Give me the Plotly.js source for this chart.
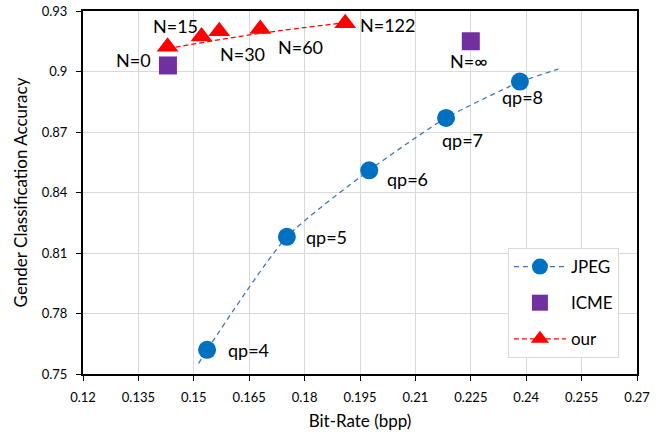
<!DOCTYPE html>
<html>
<head>
<meta charset="utf-8">
<script src="https://cdn.plot.ly/plotly-3.0.1.min.js"></script>
<style>html,body{margin:0;padding:0;background:#fff;}#chart{width:662px;height:440px;}</style>
</head>
<body>
<div id="chart"></div>
<script>
// ---- data ----
const jpegX = [0.1536, 0.1752, 0.1975, 0.2183, 0.2383];
const jpegY = [0.762, 0.818, 0.851, 0.877, 0.895];
const jpegLabels = ['qp=4', 'qp=5', 'qp=6', 'qp=7', 'qp=8'];
const jpegTrendStartX = [0.1513];
const jpegTrendStartY = [0.7553];
const jpegTrendEndX = [0.2487];
const jpegTrendEndY = [0.9012];

const icmeX = [0.143, 0.225];
const icmeY = [0.903, 0.915];
const icmeLabels = ['', 'N=∞'];

const ourX = [0.1429, 0.1521, 0.1569, 0.168, 0.191];
const ourY = [0.9123, 0.9173, 0.9199, 0.9211, 0.9239];
const ourLabels = ['N=0', 'N=15', 'N=30', 'N=60', 'N=122'];
const ourTrendX = [0.1429, 0.168, 0.191];
const ourTrendY = [0.9114, 0.9189, 0.9242];

const xTickVals = [0.12, 0.135, 0.15, 0.165, 0.18, 0.195, 0.21, 0.225, 0.24, 0.255, 0.27];
const xTickText = ['0.12', '0.135', '0.15', '0.165', '0.18', '0.195', '0.21', '0.225', '0.24', '0.255', '0.27'];
const yTickVals = [0.75, 0.78, 0.81, 0.84, 0.87, 0.9, 0.93];
const yTickText = ['0.75', '0.78', '0.81', '0.84', '0.87', '0.9', '0.93'];

// ---- styling ----
const FONT = 'Lato, "Open Sans", sans-serif';
const BLUE = '#0070C0', TREND_BLUE = '#3D72B4', PURPLE = '#7030A0', RED = '#FF0000';

const traces = [
  {x: [jpegTrendStartX[0], jpegX[0]], y: [jpegTrendStartY[0], jpegY[0]], mode: 'lines',
   line: {color: TREND_BLUE, width: 1.25, dash: '5px,4px'}, showlegend: false, hoverinfo: 'skip'},
  {x: [jpegX[jpegX.length-1], jpegTrendEndX[0]], y: [jpegY[jpegY.length-1], jpegTrendEndY[0]], mode: 'lines',
   line: {color: TREND_BLUE, width: 1.25, dash: '5px,4px'}, showlegend: false, hoverinfo: 'skip'},
  {x: jpegX, y: jpegY, name: 'JPEG', mode: 'lines+markers',
   line: {color: TREND_BLUE, width: 1.25, dash: '5px,4px', shape: 'spline', smoothing: 0.6},
   marker: {symbol: 'circle', size: 18, color: BLUE}, legendgroup: 'a'},
  {x: icmeX, y: icmeY, name: 'ICME', mode: 'markers',
   marker: {symbol: 'square', size: 18, color: PURPLE}, legendgroup: 'b'},
  {x: ourTrendX, y: ourTrendY, mode: 'lines', line: {color: RED, width: 1.25, dash: '5px,3px', shape: 'spline'},
   showlegend: false, hoverinfo: 'skip'},
  {x: ourX, y: ourY, name: 'our', mode: 'markers',
   marker: {symbol: 'triangle-up', size: 19, color: RED}, showlegend: false},
  {x: [null], y: [null], name: 'our', mode: 'lines+markers',
   line: {color: RED, width: 1.25, dash: '5px,3px'},
   marker: {symbol: 'triangle-up', size: 19, color: RED}, legendgroup: 'c'}
];

// label offsets (px): [dx, dy down]
const jpegOff = [[41, 0], [40, 0], [38, 9], [16, 22], [3, 15]];
const ourOff = [[-34, 13], [-26, -11], [23, 23], [40, 18], [43, 2]];
const icmeOff = [[0, 0], [-2, 20]];

const annFont = {family: FONT, size: 18, color: '#000'};
const annotations = [];
function addLabels(xs, ys, labels, offs) {
  for (let i = 0; i < xs.length; i++) {
    if (!labels[i]) continue;
    annotations.push({x: xs[i], y: ys[i], xref: 'x', yref: 'y', text: labels[i], showarrow: false,
      xanchor: 'center', yanchor: 'middle', xshift: offs[i][0], yshift: -offs[i][1], font: annFont});
  }
}
addLabels(jpegX, jpegY, jpegLabels, jpegOff);
addLabels(ourX, ourY, ourLabels, ourOff);
addLabels(icmeX, icmeY, icmeLabels, icmeOff);

const layout = {
  width: 662, height: 440,
  margin: {l: 83, r: 25, t: 11, b: 66},
  paper_bgcolor: '#fff', plot_bgcolor: '#fff',
  font: {family: FONT, color: '#000'},
  xaxis: {
    range: [0.12, 0.27], tickvals: xTickVals, ticktext: xTickText,
    showgrid: true, gridcolor: '#d9d9d9', gridwidth: 1, zeroline: false,
    showline: true, linecolor: '#000', linewidth: 2, mirror: true,
    ticks: 'outside', ticklen: 5, tickcolor: '#000', tickwidth: 1,
    tickfont: {family: FONT, size: 13, color: '#000'}, ticklabelstandoff: 5,
    title: {text: 'Bit-Rate (bpp)', font: {family: FONT, size: 17, color: '#000'}, standoff: 12},
    automargin: false
  },
  yaxis: {
    range: [0.75, 0.93], tickvals: yTickVals, ticktext: yTickText,
    showgrid: true, gridcolor: '#d9d9d9', gridwidth: 1, zeroline: false,
    showline: true, linecolor: '#000', linewidth: 2, mirror: true,
    ticks: 'outside', ticklen: 5, tickcolor: '#000', tickwidth: 1,
    tickfont: {family: FONT, size: 13, color: '#000'}, ticklabelstandoff: 6,
    title: {text: 'Gender Classification Accuracy', font: {family: FONT, size: 17, color: '#000'}, standoff: 10},
    automargin: false
  },
  showlegend: true,
  legend: {
    x: 0.767, xanchor: 'left', y: 0.347, yanchor: 'top',
    bgcolor: '#fff', bordercolor: '#d9d9d9', borderwidth: 1,
    font: {family: FONT, size: 17, color: '#000'},
    traceorder: 'grouped', tracegroupgap: 11, itemwidth: 52, entrywidth: 98
  },
  annotations: annotations
};

Plotly.newPlot('chart', traces, layout, {displayModeBar: false, staticPlot: true});
</script>
</body>
</html>
